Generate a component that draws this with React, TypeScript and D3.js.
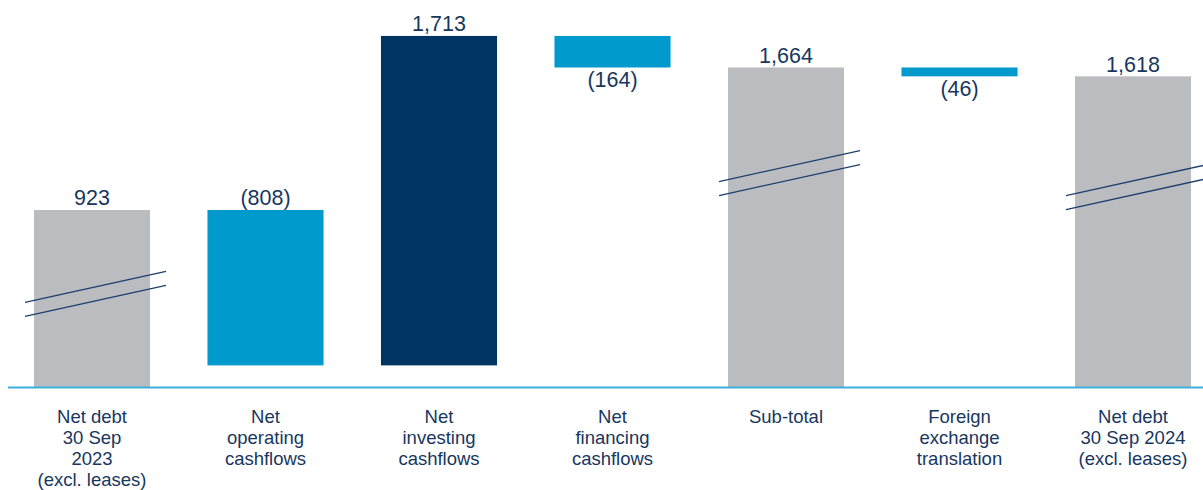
import React from "react";
import * as d3 from "d3";

const categories: string[][] = [
  ["Net debt", "30 Sep", "2023", "(excl. leases)"],
  ["Net", "operating", "cashflows"],
  ["Net", "investing", "cashflows"],
  ["Net", "financing", "cashflows"],
  ["Sub-total"],
  ["Foreign", "exchange", "translation"],
  ["Net debt", "30 Sep 2024", "(excl. leases)"],
];
const values: number[] = [923, -808, 1713, -164, 1664, -46, 1618];
const kinds: string[] = ["total", "delta", "delta", "delta", "total", "delta", "total"];
const valueLabels: string[] = ["923", "(808)", "1,713", "(164)", "1,664", "(46)", "1,618"];
const labelSide: string[] = ["top", "top", "top", "bottom", "top", "bottom", "top"];
// axis-break marks: bar index and value at which the break sits
const breakBars: number[] = [0, 4, 6];
const breakValues: number[] = [487, 1115, 1042];

const W = 1203;
const H = 490;
const NAVY_TEXT = "#17375e";
const GREY = "#bbbcbf";
const LIGHT = "#009acd";
const DARK = "#003462";
const AXIS = "#3eaedd";
const FONT = "'Liberation Sans', Arial, sans-serif";

export default function App() {
  const x = d3
    .scaleBand<number>()
    .domain(d3.range(categories.length))
    .range([5.25, 1219.75])
    .paddingInner(0.331)
    .paddingOuter(0.1655);
  const y = d3.scaleLinear().domain([0, 1900]).range([387.5, 22.1]);

  let running = 0;
  const segs = values.map((v, i) => {
    let lo: number, hi: number;
    if (kinds[i] === "total") {
      lo = 0;
      hi = v;
      running = v;
    } else {
      const start = running;
      running = running + v;
      lo = Math.min(start, running);
      hi = Math.max(start, running);
    }
    const color = kinds[i] === "total" ? GREY : v < 0 ? LIGHT : DARK;
    return { lo, hi, color, i };
  });

  const bw = x.bandwidth();

  return (
    <svg
      width={W}
      height={H}
      style={{ position: "absolute", left: 0, top: 0 }}
      fontFamily={FONT}
    >
      {segs.map((s) => (
        <rect
          key={"b" + s.i}
          x={x(s.i)!}
          y={y(s.hi)}
          width={bw}
          height={y(s.lo) - y(s.hi)}
          fill={s.color}
        />
      ))}
      {breakBars.map((bi, k) => {
        const cx = x(bi)! + bw / 2;
        const cy = y(breakValues[k]);
        const x1 = cx - 67;
        const x2 = cx + 74;
        const dy = 15.5;
        return (
          <g key={"br" + k} stroke="#1d3f6e" strokeWidth={1.3}>
            <line x1={x1} y1={cy - 7 + dy} x2={x2} y2={cy - 7 - dy} />
            <line x1={x1} y1={cy + 7 + dy} x2={x2} y2={cy + 7 - dy} />
          </g>
        );
      })}
      <line x1={8} x2={W} y1={387.5} y2={387.5} stroke={AXIS} strokeWidth={2} />
      {segs.map((s) => {
        const cx = x(s.i)! + bw / 2;
        const yy = labelSide[s.i] === "top" ? y(s.hi) - 4.5 : y(s.lo) + 19.5;
        return (
          <text
            key={"v" + s.i}
            x={cx}
            y={yy}
            textAnchor="middle"
            fontSize={21.5}
            fill={NAVY_TEXT}
          >
            {valueLabels[s.i]}
          </text>
        );
      })}
      {categories.map((lines, i) => (
        <text
          key={"c" + i}
          x={x(i)! + bw / 2}
          y={422.5}
          textAnchor="middle"
          fontSize={18.5}
          fill={NAVY_TEXT}
        >
          {lines.map((l, j) => (
            <tspan key={j} x={x(i)! + bw / 2} dy={j === 0 ? 0 : 21.3}>
              {l}
            </tspan>
          ))}
        </text>
      ))}
    </svg>
  );
}
